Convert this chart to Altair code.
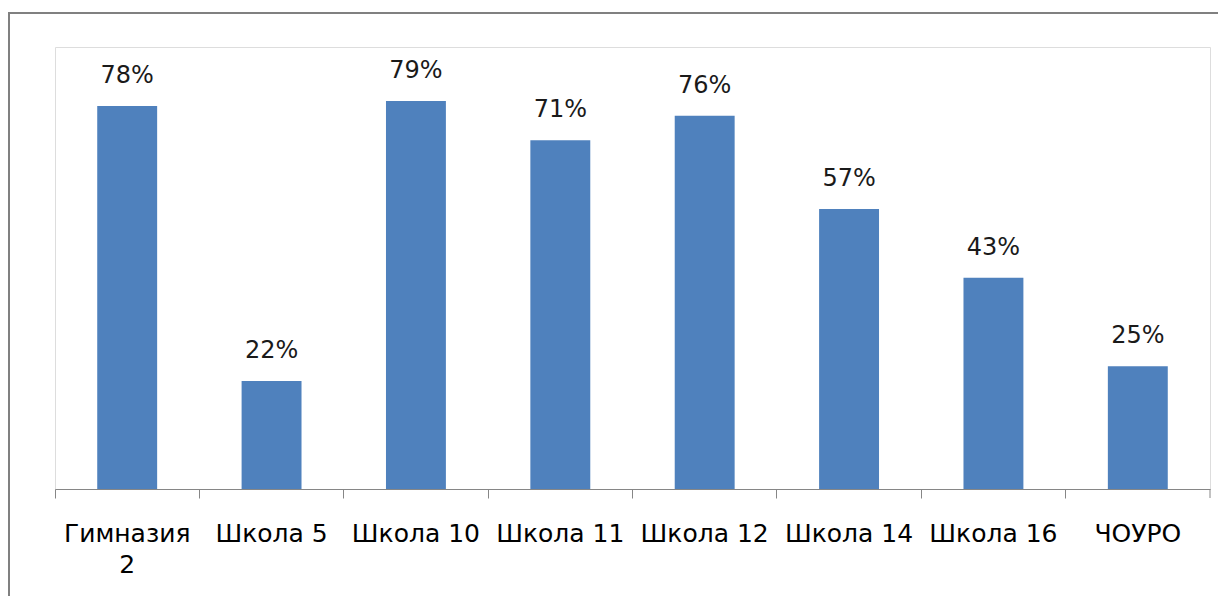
import altair as alt
import pandas as pd

categories = ["Гимназия 2", "Школа 5", "Школа 10", "Школа 11", "Школа 12", "Школа 14", "Школа 16", "ЧОУРО"]
values = [78, 22, 79, 71, 76, 57, 43, 25]

df = pd.DataFrame({"cat": categories, "val": values})

W, H = 1155, 442
FONT = "DejaVu Sans"
AXIS_GRAY = "#868686"

x = alt.X(
    "cat:N",
    sort=categories,
    scale=alt.Scale(paddingInner=0, paddingOuter=0),
    axis=alt.Axis(
        title=None,
        bandPosition=0,
        labelAngle=0,
        labelAlign="center",
        labelBaseline="top",
        labelFont=FONT,
        labelFontSize=25,
        labelColor="#000000",
        labelPadding=23,
        labelLineHeight=31,
        labelOverlap=False,
        labelBound=False,
        labelExpr="length(datum.label) > 9 ? split(datum.label, ' ') : datum.label",
        domainColor=AXIS_GRAY,
        domainWidth=1,
        tickColor=AXIS_GRAY,
        tickSize=9,
        tickWidth=1,
        grid=False,
    ),
)
y = alt.Y("val:Q", scale=alt.Scale(domain=[0, 90], nice=False, zero=True), axis=None)

base = alt.Chart(df)

bars = base.mark_bar(color="#4F81BD", width=alt.RelativeBandSize(0.415)).encode(x=x, y=y)

labels = base.transform_calculate(lbl="datum.val + '%'").mark_text(
    baseline="bottom", dy=-18, font=FONT, fontSize=24, color="#1a1a1a"
).encode(x=x, y=y, text="lbl:N")

one = alt.Data(values=[{"a": 1}])
last_tick = alt.Chart(one).mark_rule(color=AXIS_GRAY, strokeWidth=1).encode(
    x=alt.value(W), y=alt.value(H), y2=alt.value(H + 9)
)
top_border = alt.Chart(one).mark_rule(color="#808080", strokeWidth=2).encode(
    x=alt.value(-48), x2=alt.value(W + 20), y=alt.value(-34)
)
left_border = alt.Chart(one).mark_rule(color="#808080", strokeWidth=2).encode(
    x=alt.value(-46), y=alt.value(-34), y2=alt.value(H + 120)
)

chart = alt.layer(bars, labels, last_tick, top_border, left_border).properties(
    width=W, height=H,
    autosize=alt.AutoSizeParams(type="none"),
    padding={"left": 47, "top": 39, "right": 8, "bottom": 107},
).configure_view(stroke=None).configure(background="white")

chart.save("out.html", embed_options={"renderer": "svg", "actions": False})
